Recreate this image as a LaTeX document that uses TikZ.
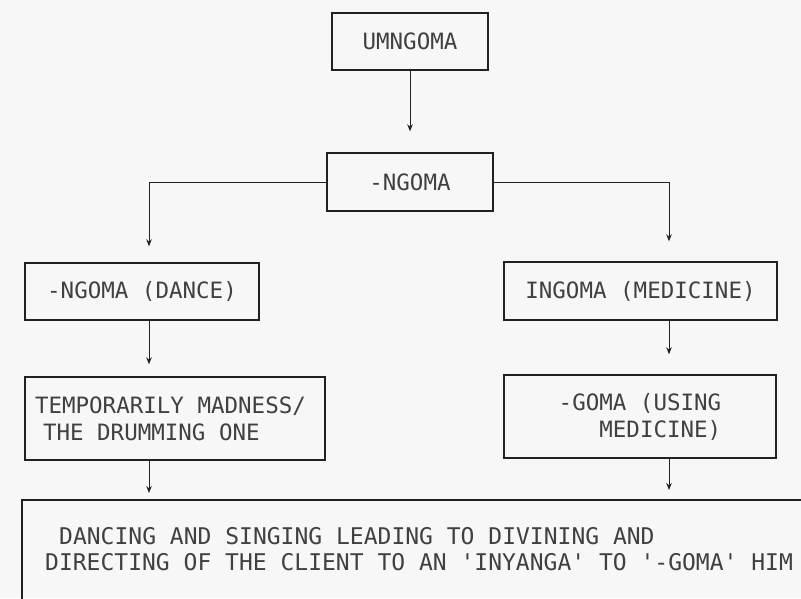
\documentclass[tikz,border=0pt]{standalone}
\usepackage{fontspec}
\newfontfamily\plotfont{DejaVu Sans Mono}
\usetikzlibrary{arrows.meta}
\definecolor{ink}{gray}{0.13}
\definecolor{txt}{gray}{0.25}
\definecolor{bg}{gray}{0.97}
\begin{document}
\begin{tikzpicture}[x=1pt,y=-1pt,
  frame/.style={draw=ink, line width=1.4pt},
  label/.style={text=txt, font=\plotfont\fontsize{22.5}{27}\selectfont},
  box/.style={frame, label, inner sep=0pt},
  arr/.style={draw=ink, line width=1pt, -{Stealth[length=7pt,width=5.5pt]}},
  ]
\fill[bg] (0,0) rectangle (801,598);
\useasboundingbox (0,0) rectangle (801,598);
\coordinate (xl) at (149,0);
\coordinate (xr) at (669,0);

\node[box, minimum width=156pt, minimum height=57pt] (umn) at (410,41.5) {UMNGOMA};
\node[box, minimum width=166pt, minimum height=58pt] (ngo) at (410,182) {-NGOMA};
\node[box, minimum width=234pt, minimum height=57pt] (dance) at (142,291.5) {-NGOMA (DANCE)};
\node[box, minimum width=273pt, minimum height=58pt] (ingoma) at (640.5,291) {INGOMA (MEDICINE)};
\node[box, minimum width=300pt, minimum height=83pt, align=left] (temp) at (175,418.5)
  {\makebox[280pt][l]{TEMPORARILY MADNESS/}\\\makebox[280pt][l]{\hspace*{8pt}THE DRUMMING ONE}};
\node[box, minimum width=272pt, minimum height=83pt, align=right] (goma) at (640,416.5)
  {-GOMA (USING\\MEDICINE)};
\node[inner sep=0pt, minimum width=800pt, minimum height=120pt, anchor=north west] (final) at (22,500) {};
\node[label, font=\plotfont\fontsize{23}{26}\selectfont, inner sep=0pt, anchor=north west, align=left] (ftext) at (45,527)
  {\hspace*{14pt}DANCING AND SINGING LEADING TO DIVINING AND\\
   DIRECTING OF THE CLIENT TO AN \textquotesingle INYANGA\textquotesingle{} TO \textquotesingle -GOMA\textquotesingle{} HIM};
\draw[frame] (final.north east) -- (final.north west) -- (final.south west);

\draw[arr, shorten >=21pt] (umn.south) -- (ngo.north);
\draw[arr, shorten >=16pt] (ngo.west) -| (dance.north -| xl);
\draw[arr, shorten >=20pt] (ngo.east) -| (ingoma.north -| xr);
\draw[arr, shorten >=12pt] (dance.south -| xl) -- (temp.north -| xl);
\draw[arr, shorten >=20pt] (ingoma.south -| xr) -- (goma.north -| xr);
\draw[arr, shorten >=7pt] (temp.south -| xl) -- (final.north -| xl);
\draw[arr, shorten >=10pt] (goma.south -| xr) -- (final.north -| xr);
\end{tikzpicture}
\end{document}
